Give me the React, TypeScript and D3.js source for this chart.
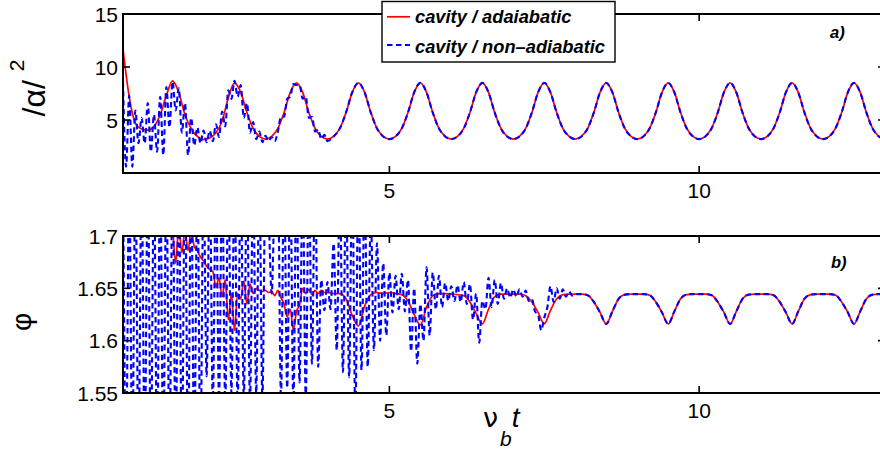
import React from 'react';
import * as d3 from 'd3';

// ---------- data ----------
const X_DOMAIN = [0.7, 13];
const X_TICKS = [5, 10];
const TOP_Y_DOMAIN = [0, 15];
const TOP_Y_TICKS = [5, 10, 15];
const BOT_Y_DOMAIN = [1.55, 1.7];
const BOT_Y_TICKS = [1.55, 1.6, 1.65, 1.7];
const SERIES_NAMES = ['cavity / adaiabatic', 'cavity / non\u2013adiabatic'];
const PANEL_LABELS = ['a)', 'b)'];

// |alpha|^2, adiabatic (red), t = 0.7 .. 13.0 step 0.1
const topRedStart = 0.7;
const topRedStep = 0.1;
const topRed = [
  11.7, 7.2, 4.7, 4.15, 4.05, 4.4, 5.5, 7.3, 8.7, 7.6, 5.5, 4.2, 3.45, 3.15, 3.3, 3.8, 4.9, 7.1,
  8.5, 7.6, 5.7, 4.2, 3.45, 3.2, 3.45, 4.2, 5.7, 7.6,
  8.5, 7.6, 5.7, 4.2, 3.45, 3.2, 3.45, 4.2, 5.7, 7.6,
  8.5, 7.6, 5.7, 4.2, 3.45, 3.2, 3.45, 4.2, 5.7, 7.6,
  8.5, 7.6, 5.7, 4.2, 3.45, 3.2, 3.45, 4.2, 5.7, 7.6,
  8.5, 7.6, 5.7, 4.2, 3.45, 3.2, 3.45, 4.2, 5.7, 7.6,
  8.5, 7.6, 5.7, 4.2, 3.45, 3.2, 3.45, 4.2, 5.7, 7.6,
  8.5, 7.6, 5.7, 4.2, 3.45, 3.2, 3.45, 4.2, 5.7, 7.6,
  8.5, 7.6, 5.7, 4.2, 3.45, 3.2, 3.45, 4.2, 5.7, 7.6,
  8.5, 7.6, 5.7, 4.2, 3.45, 3.2, 3.45, 4.2, 5.7, 7.6,
  8.5, 7.6, 5.7, 4.2, 3.45, 3.2, 3.45, 4.2, 5.7, 7.6,
  8.5, 7.6, 5.7, 4.2, 3.45, 3.2,
];

// |alpha|^2, non-adiabatic (blue), early transient t = 0.7 .. 4.0 step 0.05
const topBlueStart = 0.7;
const topBlueStep = 0.05;
const topBlueEarly = [
  8.6, 0.6, 7.3, 0.6, 5.9, 2.8, 5.2, 2.8, 6.6, 2.0,
  5.5, 2.0, 7.2, 1.7, 8.1, 4.3, 8.6, 5.9, 8.0, 3.8,
  6.6, 1.7, 5.2, 2.6, 4.3, 2.8, 4.0, 2.9, 4.0, 3.0,
  4.6, 3.4, 5.8, 4.4, 7.8, 7.0, 8.7, 7.2, 8.3, 5.2,
  6.6, 3.8, 4.8, 3.2, 3.9, 2.9, 3.5, 3.0, 3.4, 3.0,
  3.9, 5.3, 5.3, 7.0, 7.2, 8.4, 8.3, 8.3, 7.0, 7.2,
  5.2, 5.3, 3.9, 4.1, 3.2, 3.6, 3.0,
];

// phi, adiabatic (red): t = 0.7 .. 3.95 step 0.05, then t = 4.0 .. 13.0 step 0.1
const botRedEarlyStart = 0.7;
const botRedEarlyStep = 0.05;
const botRedEarly = [
  1.75, 1.75, 1.75, 1.75, 1.75, 1.75, 1.75, 1.75, 1.75, 1.75, 1.75, 1.75, 1.75, 1.75, 1.75, 1.75,
  1.71, 1.674, 1.71, 1.684, 1.705, 1.686, 1.705, 1.69, 1.686, 1.68,
  1.676, 1.671, 1.668, 1.666, 1.651, 1.66, 1.642, 1.658, 1.62, 1.645,
  1.61, 1.645, 1.64, 1.657, 1.635, 1.654, 1.645, 1.65, 1.648, 1.647,
  1.648, 1.646, 1.647, 1.643, 1.648, 1.641, 1.635, 1.623, 1.63, 1.61,
  1.628, 1.634, 1.65, 1.645, 1.649, 1.644, 1.648, 1.645, 1.648, 1.646,
];
const botRedLateStart = 4.0;
const botRedLateStep = 0.1;
const botRedLate = [
  1.646, 1.645, 1.645, 1.64, 1.624, 1.614, 1.633, 1.644, 1.646, 1.645,
  1.646, 1.645, 1.644, 1.638, 1.625, 1.615, 1.632, 1.643, 1.645, 1.645,
  1.6445, 1.644, 1.643, 1.637, 1.626, 1.616, 1.63, 1.642, 1.6445, 1.6445,
  1.6445, 1.6445, 1.643, 1.637, 1.627, 1.616, 1.629, 1.64, 1.644, 1.6445,
  1.6445, 1.6445, 1.6435, 1.637, 1.627, 1.616, 1.628, 1.64, 1.644, 1.6445,
  1.6445, 1.6445, 1.6435, 1.637, 1.627, 1.616, 1.628, 1.64, 1.644, 1.6445,
  1.6445, 1.6445, 1.6435, 1.637, 1.627, 1.616, 1.628, 1.64, 1.644, 1.6445,
  1.6445, 1.6445, 1.6435, 1.637, 1.627, 1.616, 1.628, 1.64, 1.644, 1.6445,
  1.6445, 1.6445, 1.6435, 1.637, 1.627, 1.616, 1.628, 1.64, 1.644, 1.6445,
  1.6445,
];

// phi, non-adiabatic (blue), early transient t = 0.7 .. 7.95 step 0.05
const botBlueStart = 0.7;
const botBlueStep = 0.05;
const botBlueEarly = [
  1.76, 1.49, 1.76, 1.49, 1.76, 1.49, 1.76, 1.49, 1.76, 1.49,
  1.76, 1.49, 1.76, 1.49, 1.76, 1.49, 1.76, 1.49, 1.76, 1.49,
  1.76, 1.49, 1.76, 1.49, 1.76, 1.49, 1.76, 1.566, 1.76, 1.54,
  1.76, 1.545, 1.76, 1.54, 1.76, 1.55, 1.76, 1.54, 1.76, 1.545,
  1.76, 1.54, 1.76, 1.55, 1.76, 1.545, 1.76, 1.72, 1.645, 1.74,
  1.76, 1.545, 1.76, 1.555, 1.76, 1.54, 1.76, 1.56, 1.76, 1.545,
  1.76, 1.578, 1.76, 1.575, 1.658, 1.629, 1.656, 1.63, 1.693, 1.591,
  1.75, 1.57, 1.75, 1.565, 1.76, 1.53, 1.76, 1.572, 1.75, 1.575,
  1.72, 1.591, 1.693, 1.6, 1.674, 1.605, 1.665, 1.627, 1.662, 1.63,
  1.664, 1.628, 1.658, 1.59, 1.65, 1.578, 1.635, 1.6, 1.67, 1.605,
  1.665, 1.63, 1.662, 1.632, 1.655, 1.638, 1.652, 1.638, 1.653, 1.637,
  1.656, 1.635, 1.654, 1.62, 1.645, 1.598, 1.638, 1.63, 1.66, 1.632,
  1.658, 1.635, 1.655, 1.64, 1.65, 1.641, 1.649, 1.642, 1.649, 1.642,
  1.648, 1.638, 1.64, 1.628, 1.625, 1.61, 1.622, 1.632, 1.652, 1.637,
  1.65, 1.64, 1.649, 1.642, 1.647, 1.643,
];

// ---------- helpers ----------
type Pt = { t: number; v: number };
const sampled = (start: number, step: number, values: number[]): Pt[] =>
  values.map((v, i) => ({ t: Math.round((start + i * step) * 1000) / 1000, v }));

const topRedPts = sampled(topRedStart, topRedStep, topRed);
const topBlueEarlyPts = sampled(topBlueStart, topBlueStep, topBlueEarly);
const topBluePts = topBlueEarlyPts.concat(
  topRedPts.filter((p) => p.t > topBlueEarlyPts[topBlueEarlyPts.length - 1].t + 1e-6)
);
const botRedPts = sampled(botRedEarlyStart, botRedEarlyStep, botRedEarly).concat(
  sampled(botRedLateStart, botRedLateStep, botRedLate)
);
const botBlueEarlyPts = sampled(botBlueStart, botBlueStep, botBlueEarly);
const botBluePts = botBlueEarlyPts.concat(
  botRedPts.filter((p) => p.t > botBlueEarlyPts[botBlueEarlyPts.length - 1].t + 1e-6)
);

// ---------- layout ----------
const W = 880;
const H = 451;
const LEFT = 123;
const RIGHT = 885;
const TOP_PANEL = { top: 14, bottom: 173 };
const BOT_PANEL = { top: 236, bottom: 393 };
const FONT = '"Liberation Sans", Arial, Helvetica, sans-serif';
const GREEK = '"DejaVu Sans", "Liberation Sans", sans-serif';
const RED = '#ff0000';
const BLUE = '#0000ff';
const TICK = 7;

function Panel(props: {
  id: string;
  top: number;
  bottom: number;
  yDomain: number[];
  yTicks: number[];
  red: Pt[];
  blue: Pt[];
  label: string;
  labelPos: [number, number];
}) {
  const { id, top, bottom, yDomain, yTicks, red, blue, label, labelPos } = props;
  const x = d3.scaleLinear().domain(X_DOMAIN).range([LEFT, RIGHT]);
  const y = d3.scaleLinear().domain(yDomain).range([bottom, top]);
  const line = d3
    .line<Pt>()
    .x((d) => x(d.t))
    .y((d) => y(d.v))
    .curve(d3.curveMonotoneX);
  return (
    <g>
      <clipPath id={id}>
        <rect x={LEFT} y={top} width={RIGHT - LEFT} height={bottom - top} />
      </clipPath>
      <g clipPath={`url(#${id})`}>
        <path d={line(red) || ''} fill="none" stroke={RED} strokeWidth={1.7} />
        <path
          d={line(blue) || ''}
          fill="none"
          stroke={BLUE}
          strokeWidth={2.1}
          strokeDasharray="5.5,3.5"
        />
      </g>
      <rect x={LEFT} y={top} width={RIGHT - LEFT} height={bottom - top} fill="none" stroke="#000" strokeWidth={2} />
      {X_TICKS.map((t) => (
        <g key={'x' + t}>
          <line x1={x(t)} x2={x(t)} y1={bottom} y2={bottom - TICK} stroke="#000" strokeWidth={1.6} />
          <line x1={x(t)} x2={x(t)} y1={top} y2={top + TICK} stroke="#000" strokeWidth={1.6} />
          <text x={x(t)} y={bottom + 24.5} textAnchor="middle" fontSize={21} fontFamily={FONT}>
            {String(t)}
          </text>
        </g>
      ))}
      {yTicks.map((v) => (
        <g key={'y' + v}>
          <line x1={LEFT} x2={LEFT + TICK} y1={y(v)} y2={y(v)} stroke="#000" strokeWidth={1.6} />
          <line x1={RIGHT} x2={RIGHT - TICK} y1={y(v)} y2={y(v)} stroke="#000" strokeWidth={1.6} />
          <text x={118} y={y(v) + 7.6} textAnchor="end" fontSize={21} fontFamily={FONT}>
            {String(v)}
          </text>
        </g>
      ))}
      <text x={labelPos[0]} y={labelPos[1]} fontSize={16.5} fontWeight="bold" fontStyle="italic" fontFamily={FONT}>
        {label}
      </text>
    </g>
  );
}

export default function App() {
  return (
    <svg
      width={W}
      height={H}
      viewBox={`0 0 ${W} ${H}`}
      style={{ position: 'absolute', left: 0, top: 0, background: '#fff' }}
    >
      <rect x={0} y={0} width={W} height={H} fill="#fff" />
      <Panel
        id="clipTop"
        top={TOP_PANEL.top}
        bottom={TOP_PANEL.bottom}
        yDomain={TOP_Y_DOMAIN}
        yTicks={TOP_Y_TICKS}
        red={topRedPts}
        blue={topBluePts}
        label={PANEL_LABELS[0]}
        labelPos={[830, 38]}
      />
      <Panel
        id="clipBot"
        top={BOT_PANEL.top}
        bottom={BOT_PANEL.bottom}
        yDomain={BOT_Y_DOMAIN}
        yTicks={BOT_Y_TICKS}
        red={botRedPts}
        blue={botBluePts}
        label={PANEL_LABELS[1]}
        labelPos={[831, 268]}
      />

      {/* y labels */}
      <text transform="translate(45,88) rotate(-90)" textAnchor="middle" fontSize={32} fontFamily={FONT}>
        {'/\u03b1/ '}
        <tspan fontSize={21} dy={-21}>
          2
        </tspan>
      </text>
      <text transform="translate(31,322) rotate(-90)" textAnchor="middle" fontSize={28} fontFamily={FONT}>
        {'\u03c6'}
      </text>

      {/* x label: nu_b t */}
      <text x={483} y={427} fontSize={27} fontFamily={GREEK}>
        {'\u03bd'}
        <tspan dx={2} dy={19} fontSize={21} fontStyle="italic" fontFamily={FONT}>
          b
        </tspan>
        <tspan dx={0} dy={-19} fontSize={28} fontStyle="italic" fontFamily={FONT}>
          t
        </tspan>
      </text>

      {/* legend */}
      <g>
        <rect x={382} y={1.5} width={233} height={60.5} fill="#fff" stroke="#000" strokeWidth={1.4} />
        <line x1={387} x2={410} y1={16.8} y2={16.8} stroke={RED} strokeWidth={1.7} />
        <line x1={387} x2={410} y1={45} y2={45} stroke={BLUE} strokeWidth={2.1} strokeDasharray="5.5,3.5" />
        <text x={415} y={23} fontSize={18.3} fontWeight="bold" fontStyle="italic" fontFamily={FONT}>
          {SERIES_NAMES[0]}
        </text>
        <text x={415} y={52.7} fontSize={18.3} fontWeight="bold" fontStyle="italic" fontFamily={FONT}>
          {SERIES_NAMES[1]}
        </text>
      </g>
    </svg>
  );
}
